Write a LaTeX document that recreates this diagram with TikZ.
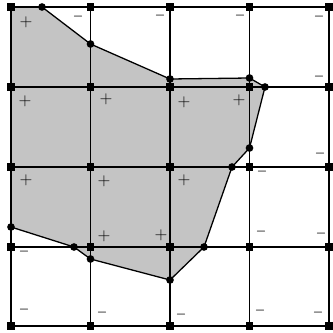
\documentclass[tikz,border=0pt]{standalone}
\definecolor{region}{gray}{0.77}
\begin{document}
\begin{tikzpicture}[x=0.03cm, y=-0.03cm, line width=1.1pt,
  sq/.style={fill, rectangle, inner sep=0, minimum size=0.22cm},
  dot/.style={fill, circle, inner sep=0, minimum size=0.23cm},
  possign/.style={font=\Large, inner sep=0},
  negsign/.style={font=\normalsize\boldmath, inner sep=0}]
  \useasboundingbox (0,0) rectangle (333,332);
  % corners of the shaded region
  \coordinate (p1) at (11,7);
  \coordinate (p2) at (42,7);
  \coordinate (p3) at (90.5,44);
  \coordinate (p4) at (170,79);
  \coordinate (p5) at (249.5,78);
  \coordinate (p6) at (265,87);
  \coordinate (p7) at (249.5,148);
  \coordinate (p8) at (232,167);
  \coordinate (p9) at (204,247);
  \coordinate (p10) at (170,280);
  \coordinate (p11) at (90.5,259);
  \coordinate (p12) at (74,247);
  \coordinate (p13) at (11,227);
  \fill[region] (p1) -- (p2) -- (p3) -- (p4) -- (p5) -- (p6) -- (p7) -- (p8)
    -- (p9) -- (p10) -- (p11) -- (p12) -- (p13) -- cycle;
  % grid
  \foreach \x [count=\i] in {11,90.5,170,249.5,329}
    \foreach \y [count=\j] in {7,87,167,247,326}
      \node[sq] (g\i\j) at (\x,\y) {};
  \foreach \i in {1,...,5} {
    \draw (g\i1.center) -- (g\i5.center);
    \draw (g1\i.center) -- (g5\i.center);
  }
  % boundary
  \draw (p2) -- (p3) -- (p4) -- (p5) -- (p6) -- (p7) -- (p8) -- (p9)
    -- (p10) -- (p11) -- (p12) -- (p13);
  \foreach \p in {p2,p3,p4,p5,p6,p7,p8,p9,p10,p11,p12,p13}
    \node[dot] (d\p) at (\p) {};
  \node[dot] (d44) at (g42) {};
  % signs
  \foreach \x/\y [count=\k] in {26/22, 25/101, 106/99, 184/102, 239/100,
      26/180, 104/181, 184/180, 104/236, 161/235}
    \node[possign] (plus\k) at (\x,\y) {$+$};
  \foreach \x/\y [count=\k] in {78/17, 160/16, 240/16, 319/17, 319/77,
      320/154, 262/172, 261/232, 321/234, 24/252, 24/310, 102/313,
      181/315, 260/311, 318/313}
    \node[negsign] (minus\k) at (\x,\y) {$-$};
\end{tikzpicture}
\end{document}
